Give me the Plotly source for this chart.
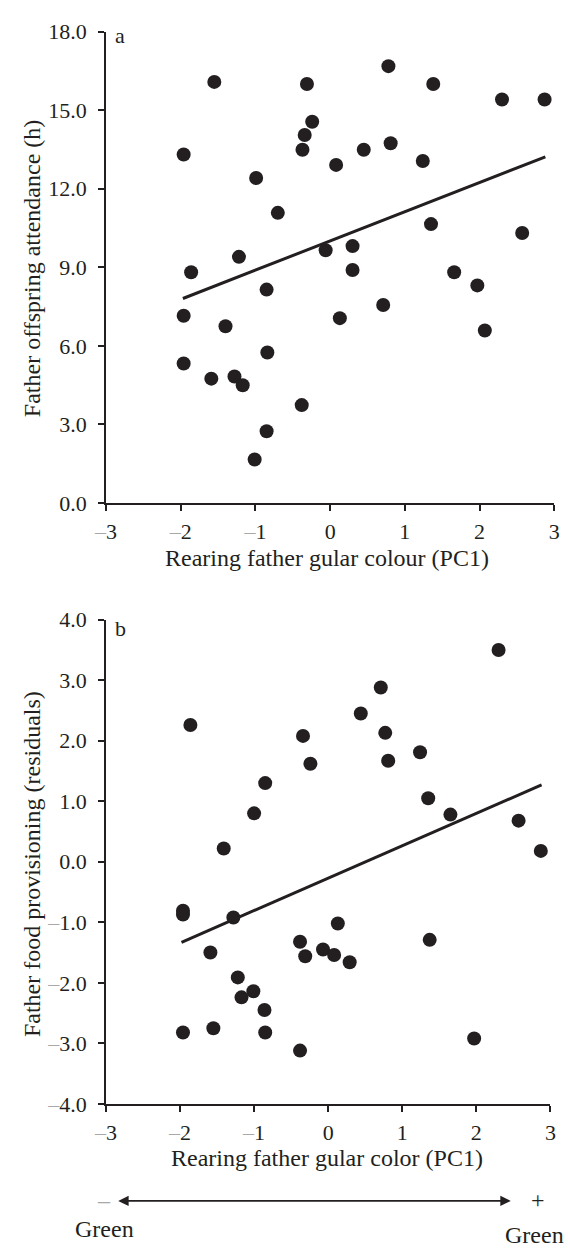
import plotly.graph_objects as go

# ---- data ----
pc1_a = [-1.96, -1.55, -0.31, -0.24, -0.34, -0.37, 0.78, 1.38, 2.30, 2.87, 0.45, 0.81, 0.08, 1.24,
         -0.99, -0.70, 1.35, 2.57, -0.06, 0.30, 0.30, -1.22, -1.86, 1.66, 1.97, -0.85, 0.71, 0.13,
         -1.96, -1.40, 2.07, -1.96, -0.84, -1.59, -1.28, -1.17, -0.38, -0.85, -1.01]
attendance = [13.31, 16.08, 16.0, 14.56, 14.05, 13.49, 16.68, 16.0, 15.41, 15.41, 13.49, 13.74, 12.91, 13.06,
              12.41, 11.08, 10.65, 10.31, 9.65, 9.81, 8.90, 9.40, 8.81, 8.81, 8.31, 8.15, 7.56, 7.06,
              7.15, 6.75, 6.59, 5.33, 5.75, 4.75, 4.83, 4.50, 3.74, 2.74, 1.66]
fit_a_x = [-1.97, 2.88]
fit_a_y = [7.81, 13.22]

pc1_b = [2.30, 0.71, -1.86, 0.44, -0.34, 0.77, -0.24, 0.81, 1.24, -0.85, -1.00, 1.35, 1.65, 2.57, 2.87,
         -1.41, -1.96, -1.96, -1.28, 0.13, -0.38, 1.37, -1.59, -0.31, -0.07, 0.08, 0.29, -1.22, -1.01,
         -1.17, -0.86, -1.96, -1.55, -0.85, -0.38, 1.97]
provisioning = [3.50, 2.88, 2.26, 2.45, 2.08, 2.13, 1.62, 1.67, 1.81, 1.30, 0.80, 1.05, 0.78, 0.68, 0.18,
                0.22, -0.81, -0.87, -0.92, -1.02, -1.32, -1.29, -1.50, -1.56, -1.45, -1.54, -1.66, -1.91,
                -2.14, -2.24, -2.45, -2.82, -2.75, -2.82, -3.12, -2.92]
fit_b_x = [-1.98, 2.88]
fit_b_y = [-1.33, 1.27]

x_ticks = [-3, -2, -1, 0, 1, 2, 3]
y_ticks_a = [0, 3, 6, 9, 12, 15, 18]
y_ticks_b = [-4, -3, -2, -1, 0, 1, 2, 3, 4]

# ---- styling ----
INK = "#231f20"
GREY = "#a8a8a8"
FONT = "Liberation Serif"
TICK_FS = 22
TITLE_FS = 24
W, H = 570, 1259


def fmt(v, dec):
    s = f"{abs(v):.{dec}f}"
    if v < 0:
        return f"<span style='color:{GREY}'>–</span>{s}"
    return s


def px(xp):
    return xp / W


def py(yp):
    return 1 - yp / H


fig = go.Figure()

fig.add_trace(go.Scatter(x=pc1_a, y=attendance, mode="markers", xaxis="x", yaxis="y",
                         marker=dict(size=14, color=INK, line=dict(width=0)), showlegend=False))
fig.add_trace(go.Scatter(x=fit_a_x, y=fit_a_y, mode="lines", xaxis="x", yaxis="y",
                         line=dict(color=INK, width=3), showlegend=False))
fig.add_trace(go.Scatter(x=pc1_b, y=provisioning, mode="markers", xaxis="x2", yaxis="y2",
                         marker=dict(size=14, color=INK, line=dict(width=0)), showlegend=False))
fig.add_trace(go.Scatter(x=fit_b_x, y=fit_b_y, mode="lines", xaxis="x2", yaxis="y2",
                         line=dict(color=INK, width=3), showlegend=False))

axis_common = dict(showline=True, linecolor=INK, linewidth=1.5, ticks="outside", ticklen=6,
                   tickwidth=1.5, tickcolor=INK, showgrid=False, zeroline=False,
                   tickfont=dict(family=FONT, size=TICK_FS, color=INK), fixedrange=True)

fig.update_layout(
    width=W, height=H, margin=dict(l=0, r=0, t=0, b=0),
    paper_bgcolor="white", plot_bgcolor="white",
    font=dict(family=FONT, size=TITLE_FS, color=INK),
    xaxis=dict(domain=[px(97), px(560)], range=[-3, 3], anchor="y", ticklabelstandoff=2,
               tickvals=x_ticks, ticktext=[fmt(v, 0) for v in x_ticks], **axis_common),
    yaxis=dict(domain=[py(501), py(20)], range=[0, 18], anchor="x", ticklabelstandoff=7,
               tickvals=y_ticks_a, ticktext=[fmt(v, 1) for v in y_ticks_a], **axis_common),
    xaxis2=dict(domain=[px(97), px(556)], range=[-3, 3], anchor="y2", ticklabelstandoff=2,
                tickvals=x_ticks, ticktext=[fmt(v, 0) for v in x_ticks], **axis_common),
    yaxis2=dict(domain=[py(1114), py(620)], range=[-4, 4], anchor="x2", ticklabelstandoff=7,
                tickvals=y_ticks_b, ticktext=[fmt(v, 1) for v in y_ticks_b], **axis_common),
)

ann = []
# panel letters
ann.append(dict(text="a", x=px(104), y=py(24), xref="paper", yref="paper", xanchor="left",
                yanchor="middle", showarrow=False, font=dict(size=TICK_FS)))
ann.append(dict(text="b", x=px(104), y=py(629), xref="paper", yref="paper", xanchor="left",
                yanchor="middle", showarrow=False, font=dict(size=TICK_FS)))
# axis titles
ann.append(dict(text="Rearing father gular colour (PC1)", x=px(325), y=py(557), xref="paper",
                yref="paper", xanchor="center", yanchor="middle", showarrow=False))
ann.append(dict(text="Rearing father gular color (PC1)", x=px(325), y=py(1169), xref="paper",
                yref="paper", xanchor="center", yanchor="middle", showarrow=False))
ann.append(dict(text="Father offspring attendance (h)", x=px(20), y=py(262), xref="paper",
                yref="paper", xanchor="center", yanchor="middle", textangle=-90, showarrow=False))
ann.append(dict(text="Father food provisioning (residuals)", x=px(20), y=py(869), xref="paper",
                yref="paper", xanchor="center", yanchor="middle", textangle=-90, showarrow=False))
# colour gradient arrow
ann.append(dict(text="", x=px(515), y=py(1213), xref="paper", yref="paper", ax=-394, ay=0,
                axref="pixel", ayref="pixel", showarrow=True, arrowside="end+start",
                arrowhead=2, arrowsize=1.3, arrowwidth=1.6, arrowcolor=INK, standoff=0, startstandoff=0))
ann.append(dict(text="–", x=px(95), y=py(1212), xref="paper", yref="paper", xanchor="center",
                yanchor="middle", showarrow=False, font=dict(color=GREY)))
ann.append(dict(text="+", x=px(543), y=py(1212), xref="paper", yref="paper", xanchor="center",
                yanchor="middle", showarrow=False))
ann.append(dict(text="Green", x=px(95), y=py(1242), xref="paper", yref="paper", xanchor="center",
                yanchor="middle", showarrow=False))
ann.append(dict(text="Green", x=px(540), y=py(1248), xref="paper", yref="paper", xanchor="center",
                yanchor="middle", showarrow=False))

fig.update_layout(annotations=ann)

fig.write_html("out.html")
